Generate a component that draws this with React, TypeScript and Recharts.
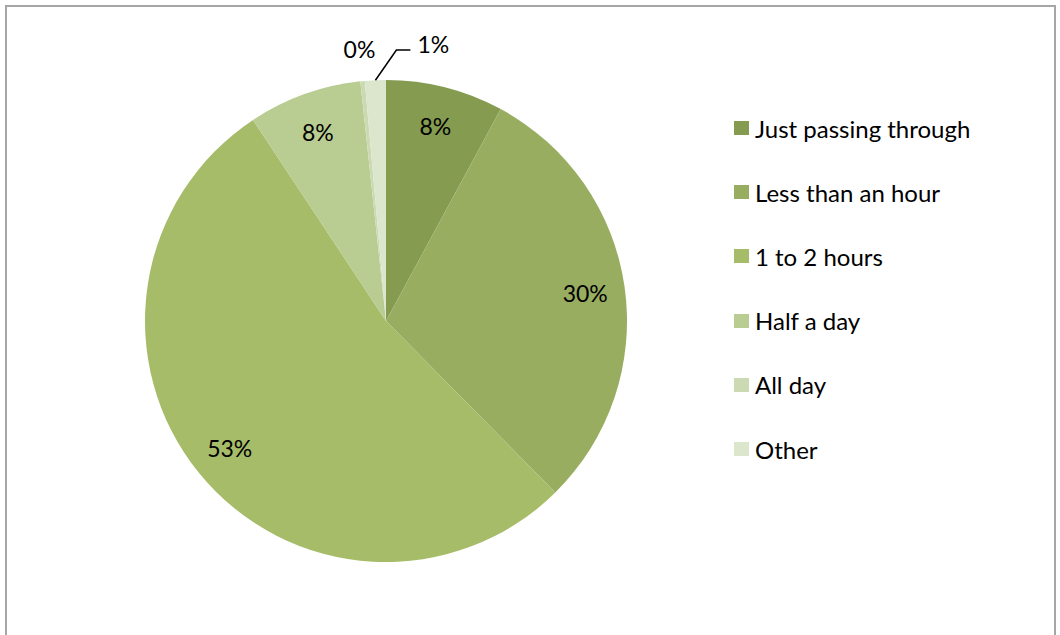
import React from "react";
import { PieChart, Pie, Cell, Legend } from "recharts";

const categories = [
  "Just passing through",
  "Less than an hour",
  "1 to 2 hours",
  "Half a day",
  "All day",
  "Other",
];
const shares = [7.9, 29.7, 53.1, 7.6, 0.3, 1.4];
const colors = ["#849b50", "#98ad60", "#a6bc69", "#b9cc91", "#cbdab2", "#dce6cc"];

const data = categories.map((name, i) => ({ name, value: shares[i] }));

const FONT = "Lato, 'Open Sans', sans-serif";
const RAD = Math.PI / 180;

function renderLabel(props: any) {
  const { cx, cy, midAngle, outerRadius, percent, index } = props;
  const text = `${Math.round(percent * 100)}%`;
  const cos = Math.cos(-midAngle * RAD);
  const sin = Math.sin(-midAngle * RAD);

  if (index === 5) {
    // small slice at the top: label pulled out with an elbow leader
    const sx = cx + outerRadius * cos;
    const sy = cy + outerRadius * sin;
    const ey = cy - outerRadius - 30;
    const mx = sx + 21;
    const ex = mx + 14;
    return (
      <g>
        <polyline
          points={`${sx},${sy} ${mx},${ey} ${ex},${ey}`}
          fill="none"
          stroke="#000"
          strokeWidth={1.5}
        />
        <text x={ex + 7} y={ey - 6} fill="#000" fontSize={23} fontFamily={FONT} textAnchor="start" dominantBaseline="central">
          {text}
        </text>
      </g>
    );
  }

  const r = index === 4 ? outerRadius + 32 : outerRadius * 0.835;
  const x = cx + r * cos;
  const y = cy + r * sin;
  return (
    <text x={x} y={y} fill="#000" fontSize={23} fontFamily={FONT} textAnchor="middle" dominantBaseline="central">
      {text}
    </text>
  );
}

function LegendList(props: any) {
  const items = [...(props.payload || [])].sort(
    (a: any, b: any) => categories.indexOf(a.value) - categories.indexOf(b.value)
  );
  return (
    <div style={{ fontFamily: FONT, fontSize: 24, color: "#000" }}>
      {items.map((p: any, i: number) => (
        <div key={i} style={{ display: "flex", alignItems: "center", height: 64.2 }}>
          <span
            style={{
              display: "inline-block",
              width: 15,
              height: 14,
              background: p.color,
              marginRight: 6,
            }}
          />
          <span>{p.value}</span>
        </div>
      ))}
    </div>
  );
}

export default function App() {
  return (
    <div
      style={{
        position: "absolute",
        left: 0,
        top: 0,
        width: 1060,
        height: 635,
        overflow: "hidden",
        background: "#fff",
      }}
    >
      <div
        style={{
          position: "absolute",
          left: 5,
          top: 5,
          width: 1051,
          height: 640,
          border: "2px solid #a6a6a6",
          boxSizing: "border-box",
        }}
      />
      <div style={{ position: "absolute", left: 0, top: 0 }}>
        <PieChart width={1060} height={635} margin={{ top: 0, right: 0, bottom: 0, left: 0 }}>
          <Pie
            data={data}
            dataKey="value"
            nameKey="name"
            cx={386}
            cy={321}
            outerRadius={241}
            startAngle={90}
            endAngle={-270}
            stroke="none"
            label={renderLabel}
            labelLine={false}
            isAnimationActive={false}
          >
            {data.map((d, i) => (
              <Cell key={d.name} fill={colors[i]} />
            ))}
          </Pie>
          <Legend
            layout="vertical"
            align="right"
            verticalAlign="top"
            itemSorter={null as any}
            content={<LegendList />}
            wrapperStyle={{ left: 734, top: 96, width: 320 }}
          />
        </PieChart>
      </div>
    </div>
  );
}
